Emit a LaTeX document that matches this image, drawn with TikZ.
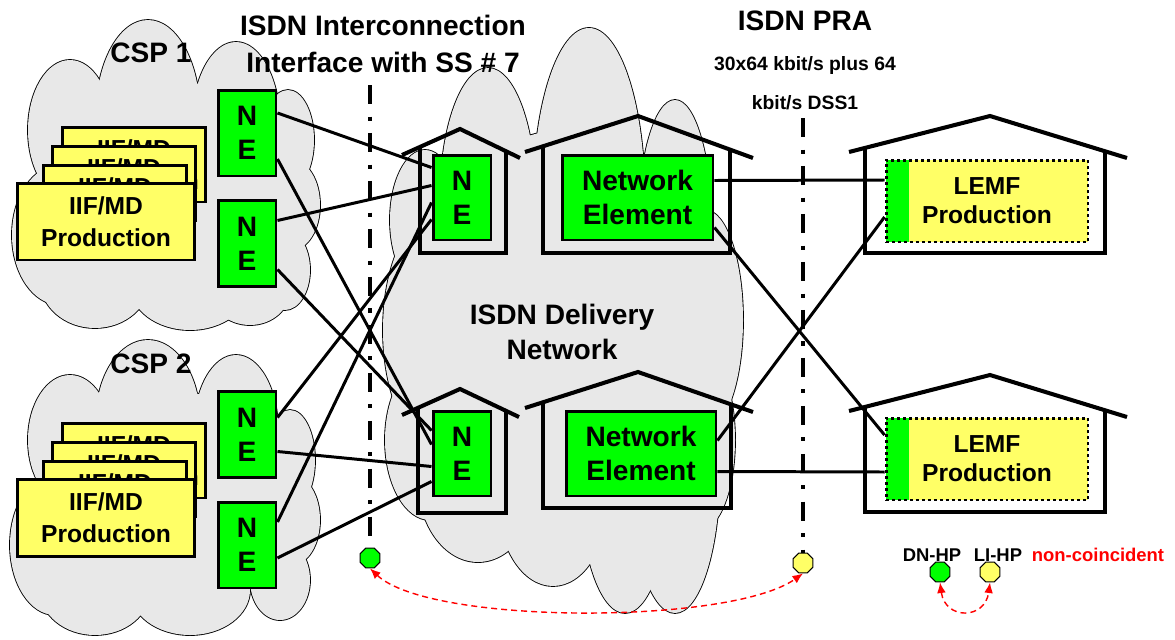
\documentclass[tikz,border=0pt]{standalone}
\usepackage{fontspec}
\setmainfont{Liberation Sans}
\usetikzlibrary{calc,shapes.geometric,arrows.meta}

\definecolor{negreen}{RGB}{0,255,0}
\definecolor{prodyellow}{RGB}{255,255,102}
\definecolor{cloudgray}{RGB}{232,232,232}

% a cloud as a heap of ellipses: outlines first, then the fill over them
\newcommand{\puffcloud}[1]{%
  \foreach \cx/\cy/\rx/\ry in {#1} \draw[puffline] (\cx,\cy) ellipse ({\rx} and {\ry});
  \foreach \cx/\cy/\rx/\ry in {#1} \fill[cloudgray] (\cx,\cy) ellipse ({\rx} and {\ry});}

\begin{document}
\begin{tikzpicture}[x=0.02cm,y=-0.02cm,
    puffline/.style={draw=black,line width=1pt},
    ne/.style={draw,line width=1.7pt,fill=negreen,inner sep=0pt,align=center,
               font=\fontsize{16}{19.5}\selectfont\bfseries},
    nebox/.style={ne,minimum width=1.16cm,minimum height=1.72cm},
    netel/.style={ne,minimum width=3.02cm,minimum height=1.7cm},
    iif/.style={draw,line width=1.7pt,fill=prodyellow,inner sep=1pt,align=center,
                font=\fontsize{14}{18}\selectfont\bfseries},
    iifback/.style={iif,minimum width=2.88cm,minimum height=1.5cm},
    iiffront/.style={iif,minimum width=3.56cm,minimum height=1.54cm},
    lemf/.style={draw,line width=1.7pt,dash pattern=on 1.7pt off 1.7pt,fill=prodyellow,
                 minimum width=4.04cm,minimum height=1.64cm,align=center,
                 font=\fontsize{14}{16.5}\selectfont\bfseries,
                 path picture={\fill[negreen] (path picture bounding box.north west)
                   rectangle ([xshift=0.46cm]path picture bounding box.south west);}},
    house/.style={line width=2.3pt},
    link/.style={line width=1.7pt},
    refline/.style={line width=2.3pt,dash pattern=on 11pt off 7pt on 2.3pt off 7pt},
    hp/.style={regular polygon,regular polygon sides=8,minimum size=0.43cm,inner sep=0pt,
               draw,line width=0.6pt},
    hparrow/.style={{Latex[length=6pt,width=5pt]}-{Latex[length=6pt,width=5pt]},red,
                    line width=0.8pt,dash pattern=on 3.4pt off 2.3pt},
    title/.style={font=\fontsize{16}{21.5}\selectfont\bfseries,align=center},
    small/.style={font=\fontsize{10.5}{12}\selectfont\bfseries}]
\useasboundingbox (0,0) rectangle (1175,639);

% clouds
\puffcloud{148/115/52/95, 70/130/42/70, 236/125/44/83, 288/140/26/50, 292/205/28/45,
  285/270/25/40, 60/235/48/70, 95/280/55/48, 190/285/60/45, 250/290/40/35, 165/190/125/110}
\puffcloud{148/420/52/80, 70/440/42/65, 236/430/42/75, 290/460/25/50, 292/520/28/45,
  280/580/30/40, 55/545/45/70, 95/590/55/45, 190/590/60/45, 165/500/125/110}
\puffcloud{488/200/48/132, 589/200/56/172, 675/230/37/130, 705/320/38/110, 700/440/35/90,
  440/330/57/120, 425/220/35/70, 430/440/45/80, 478/480/60/82, 553/500/55/86,
  625/480/45/133, 675/470/45/143, 565/330/150/200}

% houses
\draw[house] (402,155) -- (460,129) -- (520,158);
\draw[house] (420,147) -- (420,253) -- (506,253) -- (506,151);
\draw[house] (525,152) -- (638,116) -- (753,158);
\draw[house] (543,146) -- (543,253) -- (730,253) -- (730,150);
\draw[house] (402,415) -- (460,389) -- (519,417);
\draw[house] (418,408) -- (418,513) -- (506,513) -- (506,411);
\draw[house] (525,408) -- (638,372) -- (753,412);
\draw[house] (543,402) -- (543,508) -- (731,508) -- (731,404);
\draw[house] (849,152) -- (990,116) -- (1127,158);
\draw[house] (865,148) -- (865,253) -- (1105,253) -- (1105,151);
\draw[house] (849,411) -- (990,375) -- (1127,417);
\draw[house] (865,407) -- (865,512) -- (1105,512) -- (1105,410);

% CSP side
\node[iifback] (iif1a) at (134,164.5) {IIF/MD\\Production};
\node[iifback] (iif1b) at (124,183.5) {IIF/MD\\Production};
\node[iifback] (iif1c) at (115,202.5) {IIF/MD\\Production};
\node[iiffront] (iif1) at (106,221.5) {IIF/MD\\Production};
\node[iifback] (iif2a) at (134,460.5) {IIF/MD\\Production};
\node[iifback] (iif2b) at (124,479.5) {IIF/MD\\Production};
\node[iifback] (iif2c) at (115,498.5) {IIF/MD\\Production};
\node[iiffront] (iif2) at (106,518) {IIF/MD\\Production};
\node[nebox] (ne1) at (247,133) {N\\E};
\node[nebox] (ne2) at (247,243.5) {N\\E};
\node[nebox] (ne3) at (247,434.5) {N\\E};
\node[nebox] (ne4) at (247,545) {N\\E};

% delivery network and LEMF
\node[nebox,minimum height=1.7cm] (dnA) at (462,197.5) {N\\E};
\node[nebox,minimum height=1.7cm] (dnB) at (462,453.5) {N\\E};
\node[netel] (elA) at (637.5,197.5) {Network\\Element};
\node[netel,minimum width=3cm] (elB) at (641,453.5) {Network\\Element};
\node[lemf] (lemfA) at (987,201) {LEMF\\Production};
\node[lemf] (lemfB) at (987,459) {LEMF\\Production};

\draw[link] ($(ne1.east)+(0,-20)$) -- ($(dnA.west)+(0,-30)$);
\draw[link] ($(ne1.east)+(0,26)$) -- ($(dnB.west)+(0,-9)$);
\draw[link] ($(ne2.east)+(0,-23)$) -- ($(dnA.west)+(0,-12)$);
\draw[link] ($(ne2.east)+(0,26)$) -- ($(dnB.west)+(0,-23)$);
\draw[link] ($(ne3.east)+(0,-17)$) -- ($(dnA.west)+(0,22)$);
\draw[link] ($(ne3.east)+(0,17)$) -- ($(dnB.west)+(0,13)$);
\draw[link] ($(ne4.east)+(0,-23)$) -- ($(dnA.west)+(0,5)$);
\draw[link] ($(ne4.east)+(0,13)$) -- ($(dnB.west)+(0,28)$);
\draw[link] ($(elA.east)+(0,-17)$) -- ($(lemfA.west)+(0,-21)$);
\draw[link] ($(elA.east)+(0,30)$) -- ($(lemfB.west)+(0,-24)$);
\draw[link] ($(elB.east)+(0,-13)$) -- ($(lemfA.west)+(0,16)$);
\draw[link] ($(elB.east)+(0,18)$) -- ($(lemfB.west)+(0,13)$);

% handover points
\node[hp,fill=negreen] (dnhp) at (370,558) {};
\node[hp,fill=prodyellow] (lihp) at (803,563) {};
\coordinate (ss7top) at (370,85);
\coordinate (ss7end) at (370,536);
\coordinate (pratop) at (803,118);
\draw[refline] (ss7top) -- (ss7end);
\draw[refline] (pratop) -- (lihp.north);
\draw[hparrow] (dnhp.south) .. controls (430,625) and (730,625) .. (lihp.south);

\node[hp,fill=negreen] (keydn) at (940,572) {};
\node[hp,fill=prodyellow] (keyli) at (990,572) {};
\draw[hparrow] (keydn.south) .. controls (945,620) and (985,620) .. (keyli.south);
\node[small] (keydnl) at (932,555) {DN-HP};
\node[small] (keylil) at (998,555) {LI-HP};
\node[small,red] (keync) at (1098,555) {non-coincident};

% texts
\node[title] (ss7) at (383,44) {ISDN Interconnection\\Interface with SS \# 7};
\node[title] (pra) at (805,21) {ISDN PRA};
\node[font=\fontsize{11}{22}\selectfont\bfseries,align=center] (prarate) at (805,83) {30x64 kbit/s plus 64\\kbit/s DSS1};
\node[title] (csp1) at (151,53) {CSP 1};
\node[title] (csp2) at (151,364) {CSP 2};
\node[title,font=\fontsize{16}{20}\selectfont\bfseries] (isdn) at (562,332) {ISDN Delivery\\Network};
\end{tikzpicture}
\end{document}
